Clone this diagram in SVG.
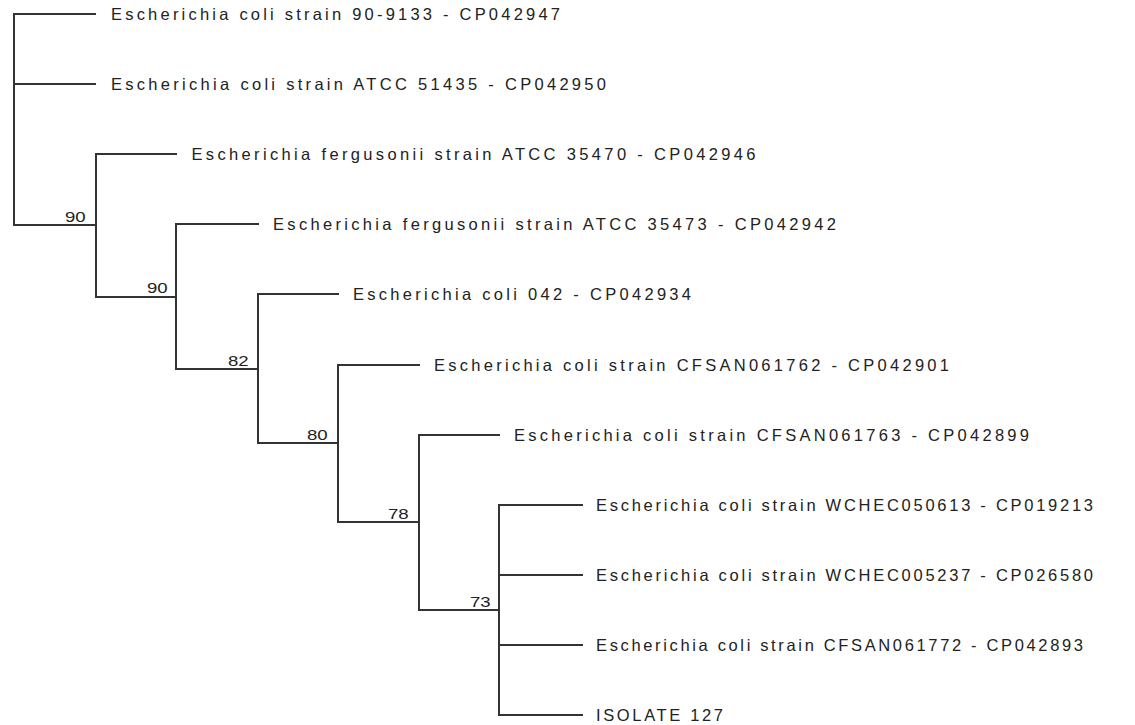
<svg xmlns="http://www.w3.org/2000/svg" width="1135" height="725" viewBox="0 0 1135 725">
<style>
.bg{fill:#ffffff}
.e{fill:none;stroke:#333333;stroke-width:2;stroke-linecap:square}
.lf{font-family:"Liberation Sans",Arial,sans-serif;font-size:16.5px;fill:#222222}
.bs{font-family:"Liberation Sans",Arial,sans-serif;font-size:14px;fill:#222222}
</style>
<rect class="bg" x="0" y="0" width="1135" height="725"/>
<g id="connectors">
<path class="e" d="M14,14 V225 M14,14 H95 M14,84 H95 M14,225 H96"/>
<path class="e" d="M96,154 V297 M96,154 H176 M96,297 H176"/>
<path class="e" d="M176,224 V369 M176,224 H258 M176,369 H258"/>
<path class="e" d="M258,294 V443 M258,294 H338 M258,443 H338"/>
<path class="e" d="M338,365 V522 M338,365 H419 M338,522 H419"/>
<path class="e" d="M419,435 V610 M419,435 H499 M419,610 H499"/>
<path class="e" d="M499,505 V715 M499,505 H582 M499,575 H582 M499,645 H582 M499,715 H582"/>
</g>
<g id="node-b"><text class="bs" transform="translate(65,221.7) scale(1.33,1)">90</text></g>
<g id="node-c"><text class="bs" transform="translate(147,292.5) scale(1.33,1)">90</text></g>
<g id="node-d"><text class="bs" transform="translate(228,365.5) scale(1.33,1)">82</text></g>
<g id="node-e"><text class="bs" transform="translate(307,440) scale(1.33,1)">80</text></g>
<g id="node-f"><text class="bs" transform="translate(388,518.5) scale(1.33,1)">78</text></g>
<g id="node-g"><text class="bs" transform="translate(470,606.5) scale(1.33,1)">73</text></g>
<g id="leaf-1"><text class="lf" x="111" y="20" textLength="449" lengthAdjust="spacing">Escherichia coli strain 90-9133 - CP042947</text></g>
<g id="leaf-2"><text class="lf" x="111" y="90" textLength="495" lengthAdjust="spacing">Escherichia coli strain ATCC 51435 - CP042950</text></g>
<g id="leaf-3"><text class="lf" x="191.5" y="160" textLength="564" lengthAdjust="spacing">Escherichia fergusonii strain ATCC 35470 - CP042946</text></g>
<g id="leaf-4"><text class="lf" x="273" y="230" textLength="563" lengthAdjust="spacing">Escherichia fergusonii strain ATCC 35473 - CP042942</text></g>
<g id="leaf-5"><text class="lf" x="353" y="300" textLength="338" lengthAdjust="spacing">Escherichia coli 042 - CP042934</text></g>
<g id="leaf-6"><text class="lf" x="434" y="371" textLength="515" lengthAdjust="spacing">Escherichia coli strain CFSAN061762 - CP042901</text></g>
<g id="leaf-7"><text class="lf" x="514" y="441" textLength="515" lengthAdjust="spacing">Escherichia coli strain CFSAN061763 - CP042899</text></g>
<g id="leaf-8"><text class="lf" x="596" y="511" textLength="497" lengthAdjust="spacing">Escherichia coli strain WCHEC050613 - CP019213</text></g>
<g id="leaf-9"><text class="lf" x="596" y="581" textLength="497" lengthAdjust="spacing">Escherichia coli strain WCHEC005237 - CP026580</text></g>
<g id="leaf-10"><text class="lf" x="596" y="651" textLength="487" lengthAdjust="spacing">Escherichia coli strain CFSAN061772 - CP042893</text></g>
<g id="leaf-11"><text class="lf" x="596" y="721" textLength="127" lengthAdjust="spacing">ISOLATE 127</text></g>
</svg>
